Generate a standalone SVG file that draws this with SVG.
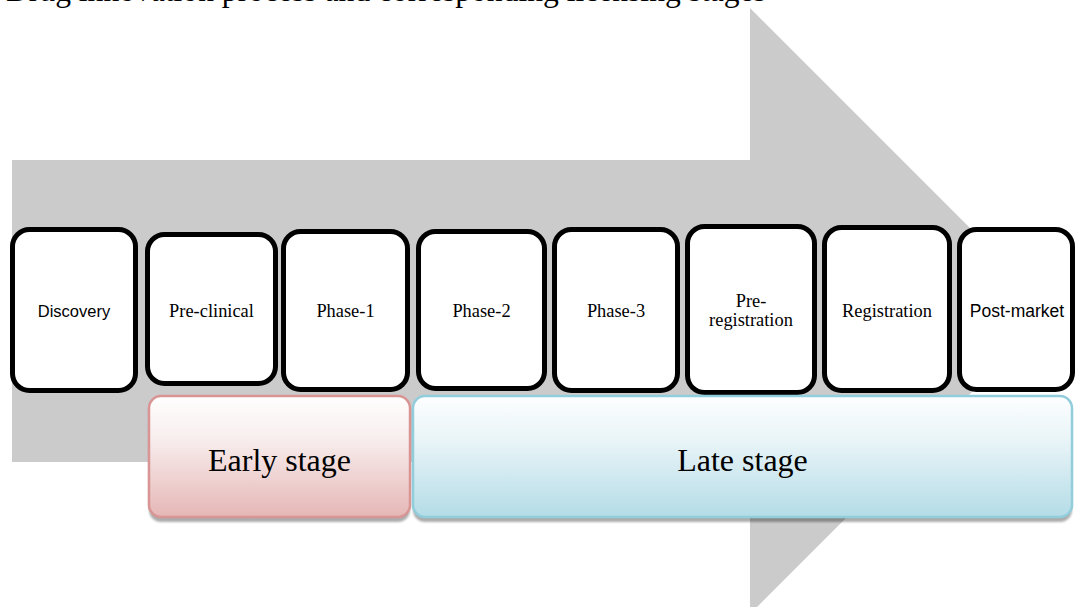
<svg xmlns="http://www.w3.org/2000/svg" width="1075" height="607" viewBox="0 0 1075 607">
  <defs>
    <linearGradient id="gradEarly" x1="0" y1="0" x2="0" y2="1">
      <stop offset="0" stop-color="#fffefe"/>
      <stop offset="0.35" stop-color="#f8eeee"/>
      <stop offset="1" stop-color="#e5b7b6"/>
    </linearGradient>
    <linearGradient id="gradLate" x1="0" y1="0" x2="0" y2="1">
      <stop offset="0" stop-color="#fdfeff"/>
      <stop offset="0.35" stop-color="#eaf5f8"/>
      <stop offset="1" stop-color="#b4dce7"/>
    </linearGradient>
    <filter id="shadow" x="-5%" y="-10%" width="110%" height="130%">
      <feGaussianBlur stdDeviation="1"/>
    </filter>
  </defs>
  <style>
    .step { fill: #ffffff; stroke: #000000; stroke-width: 5; }
    .serif { font-family: "Liberation Serif", "Times New Roman", serif; fill: #000000; text-anchor: middle; }
    .sans { font-family: "Liberation Sans", Arial, sans-serif; fill: #000000; text-anchor: middle; }
    .label { font-size: 18.4px; }
    .stage-label { font-size: 32px; }
    .stage-shadow { fill: #000000; opacity: 0.32; filter: url(#shadow); }
  </style>

  <!-- caption line, mostly above the top edge -->
  <text x="6" y="1" font-family="Liberation Serif, Times New Roman, serif" font-size="31.6" fill="#000000">Drug innovation process and corresponding licensing stages</text>

  <!-- background block arrow -->
  <g id="backdrop-arrow">
    <polygon points="12,160 750,160 750,8 1053,311 750,614 750,462 12,462" fill="#cbcbcb"/>
  </g>

  <!-- process steps -->
  <g id="node-discovery">
    <rect class="step" x="12.5" y="229.5" width="123" height="161" rx="17"/>
    <text class="sans" x="74" y="317" font-size="16.5">Discovery</text>
  </g>
  <g id="node-preclinical">
    <rect class="step" x="147.5" y="234.5" width="128" height="149" rx="17"/>
    <text class="serif label" x="211.5" y="317">Pre-clinical</text>
  </g>
  <g id="node-phase1">
    <rect class="step" x="283.5" y="231.5" width="124" height="158" rx="17"/>
    <text class="serif label" x="345.5" y="317">Phase-1</text>
  </g>
  <g id="node-phase2">
    <rect class="step" x="418.5" y="231.5" width="126" height="157" rx="17"/>
    <text class="serif label" x="481.5" y="317">Phase-2</text>
  </g>
  <g id="node-phase3">
    <rect class="step" x="554.5" y="229.5" width="123" height="161" rx="17"/>
    <text class="serif label" x="616" y="317">Phase-3</text>
  </g>
  <g id="node-preregistration">
    <rect class="step" x="687.5" y="226.5" width="127" height="166" rx="17"/>
    <text class="serif label" x="751" y="307">Pre-</text>
    <text class="serif label" x="751" y="326">registration</text>
  </g>
  <g id="node-registration">
    <rect class="step" x="824.5" y="227.5" width="125" height="163" rx="17"/>
    <text class="serif label" x="887" y="317">Registration</text>
  </g>
  <g id="node-postmarket">
    <rect class="step" x="959.5" y="229.5" width="113" height="160" rx="17"/>
    <text class="sans" x="1017" y="317" font-size="17.5">Post-market</text>
  </g>

  <!-- stage brackets -->
  <g id="node-early-stage">
    <rect class="stage-shadow" x="149" y="400" width="261" height="122" rx="12"/>
    <rect x="149" y="396" width="261" height="121" rx="12" fill="url(#gradEarly)" stroke="#d99594" stroke-width="2.5"/>
    <text class="serif stage-label" x="279.5" y="471">Early stage</text>
  </g>
  <g id="node-late-stage">
    <rect class="stage-shadow" x="413" y="400" width="659" height="122" rx="12"/>
    <rect x="413" y="396" width="659" height="121" rx="12" fill="url(#gradLate)" stroke="#92cddc" stroke-width="2.5"/>
    <text class="serif stage-label" x="742.5" y="471">Late stage</text>
  </g>

  <g id="connectors"/>
</svg>
